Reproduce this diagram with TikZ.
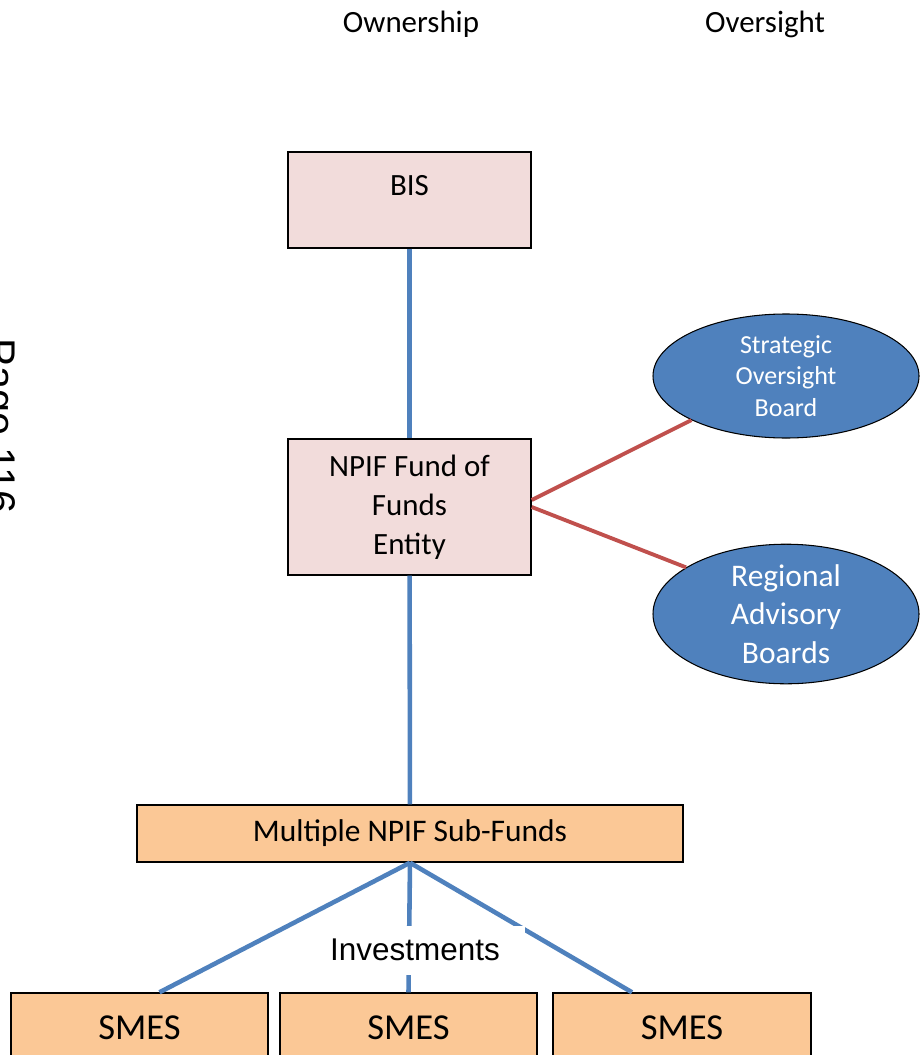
\documentclass[tikz,border=0pt]{standalone}
\usepackage{fontspec}
\setmainfont{Carlito}
\newfontfamily\arialfont{Liberation Sans}
\usetikzlibrary{shapes}

\definecolor{entitypink}{HTML}{F2DCDB}
\definecolor{fundorange}{HTML}{FBC896}
\definecolor{boardblue}{HTML}{4F81BD}
\definecolor{linkred}{HTML}{C0504D}

\begin{document}
\begin{tikzpicture}[x = 0.2mm, y = -0.2mm]
	\tikzstyle{entityStyle} = [shape = rectangle, draw = black, line width = 0.8pt, fill = entitypink, inner sep = 0pt, align = center, font = \fontsize{17.6}{22.1}\selectfont]
	\tikzstyle{fundStyle} = [shape = rectangle, draw = black, line width = 0.8pt, fill = fundorange, inner sep = 0pt, align = center]
	\tikzstyle{boardStyle} = [shape = ellipse, draw = black, line width = 0.6pt, fill = boardblue, inner sep = 0pt, text = white, align = center, minimum width = 5.32cm]
	\tikzstyle{ownEdge} = [draw = boardblue, line width = 2.6pt]
	\tikzstyle{overEdge} = [draw = linkred, line width = 2.2pt]
	\useasboundingbox (0, 0) rectangle (919, 1055);
	% column headings
	\node[font = \fontsize{17.6}{21}\selectfont] (own) at (411, 24) {Ownership};
	\node[font = \fontsize{17.6}{21}\selectfont] (over) at (765, 24) {Oversight};
	\node[rotate = -90, anchor = base, font = \arialfont\fontsize{23.6}{28}\selectfont] (page) at (-13, 426) {Page 116};
	% ownership chain
	\node[entityStyle, minimum width = 4.86cm, text width = 4.86cm, text height = 0.86cm, text depth = 1.06cm] (bis) at (409.5, 200) {BIS};
	\node[entityStyle, minimum width = 4.86cm, minimum height = 2.72cm] (npif) at (409.5, 507) {NPIF Fund of\\Funds\\Entity};
	\node[fundStyle, minimum width = 10.92cm, minimum height = 1.14cm, font = \fontsize{17.9}{21}\selectfont] (subfunds) at (410, 833.5) {Multiple NPIF Sub-Funds};
	\node[fundStyle, minimum width = 5.14cm, minimum height = 1.4cm, font = \fontsize{20.8}{25}\selectfont] (sme1) at (139.5, 1028) {SMES};
	\node[fundStyle, minimum width = 5.14cm, minimum height = 1.4cm, font = \fontsize{20.8}{25}\selectfont] (sme2) at (408.5, 1028) {SMES};
	\node[fundStyle, minimum width = 5.16cm, minimum height = 1.4cm, font = \fontsize{20.8}{25}\selectfont] (sme3) at (682, 1028) {SMES};
	% oversight boards
	\node[boardStyle, minimum height = 2.48cm, font = \fontsize{14.8}{18.1}\selectfont] (sob) at (786, 376) {Strategic\\Oversight\\Board};
	\node[boardStyle, minimum height = 2.66cm, font = \fontsize{17.9}{21.8}\selectfont] (rab) at (786, 614) {Regional\\Advisory\\Boards};
	% edges
	\draw[ownEdge] (bis) -- (npif);
	\draw[ownEdge] (npif) -- (subfunds);
	\draw[ownEdge] (subfunds.south) -- ([xshift = 0.4cm]sme1.north);
	\draw[ownEdge] (subfunds.south) -- (sme2.north);
	\draw[ownEdge] (subfunds.south) -- ([xshift = -1.0cm]sme3.north);
	\draw[overEdge] ([yshift = 0.14cm]npif.east) -- (sob.205);
	\draw[overEdge] (npif.east) -- (rab.155);
	\node[fill = white, minimum width = 4.4cm, minimum height = 0.98cm, font = \arialfont\fontsize{17.9}{21}\selectfont] (invest) at (415, 950) {Investments};
\end{tikzpicture}
\end{document}
